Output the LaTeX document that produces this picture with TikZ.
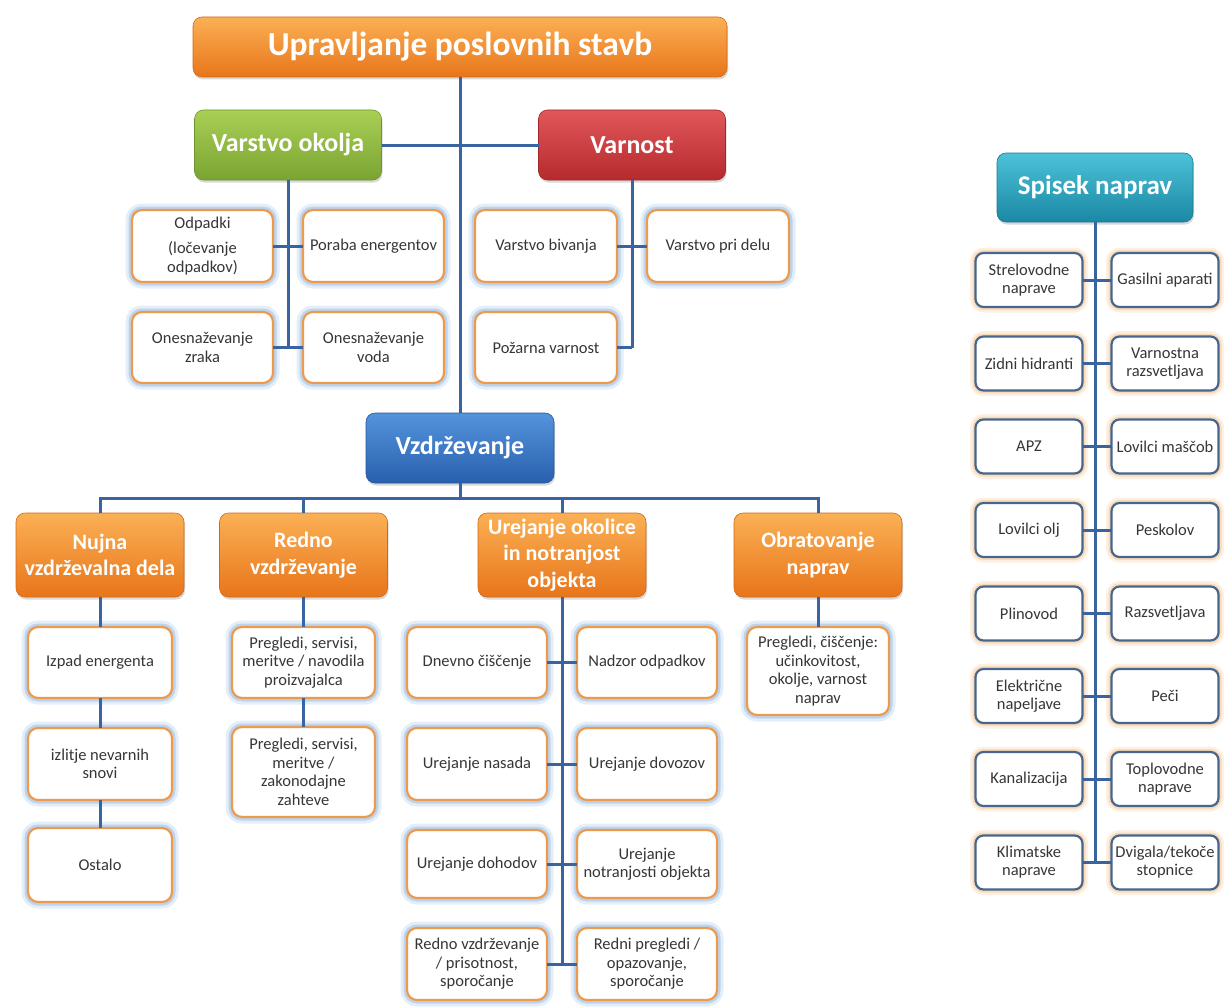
\documentclass[tikz,border=0pt]{standalone}
\usepackage{fontspec}
\setmainfont{Carlito}
\usetikzlibrary{shadows}

\definecolor{linkblue}{HTML}{3A64A0}
\definecolor{leafborder}{HTML}{EE9A4E}
\definecolor{glowin}{HTML}{BCD4EE}
\definecolor{glowout}{HTML}{E4EEF9}
\definecolor{devborder}{HTML}{46668F}
\definecolor{peachin}{HTML}{F8DBB8}
\definecolor{peachout}{HTML}{FDF0E2}
\definecolor{leaftext}{HTML}{363636}
\definecolor{orangetop}{HTML}{FBB055}
\definecolor{orangebot}{HTML}{E8751A}
\definecolor{greentop}{HTML}{A9CF55}
\definecolor{greenbot}{HTML}{7AA432}
\definecolor{redtop}{HTML}{E2585A}
\definecolor{redbot}{HTML}{B52B2D}
\definecolor{bluetop}{HTML}{5494DC}
\definecolor{bluebot}{HTML}{2960AE}
\definecolor{tealtop}{HTML}{4CC2D8}
\definecolor{tealbot}{HTML}{1B88A4}

\tikzset{
  conn/.style={draw=linkblue, line width=3pt},
  hdr/.style={rectangle, rounded corners=9pt, outer sep=0pt, inner sep=2pt,
    text=white, align=center,
    drop shadow={shadow xshift=1pt, shadow yshift=-2.5pt, opacity=.3}},
  orangehdr/.style={hdr, top color=orangetop, bottom color=orangebot, draw=orangebot!90!black, line width=.6pt},
  greenhdr/.style={hdr, top color=greentop, bottom color=greenbot, draw=greenbot!90!black, line width=.6pt},
  redhdr/.style={hdr, top color=redtop, bottom color=redbot, draw=redbot!90!black, line width=.6pt},
  bluehdr/.style={hdr, top color=bluetop, bottom color=bluebot, draw=bluebot!90!black, line width=.6pt},
  tealhdr/.style={hdr, top color=tealtop, bottom color=tealbot, draw=tealbot!90!black, line width=.6pt},
  bigtxt/.style={font=\fontsize{33.5}{40}\selectfont\bfseries},
  midtxt/.style={font=\fontsize{26}{31}\selectfont\bfseries},
  subtxt/.style={font=\fontsize{22}{26.5}\selectfont\bfseries},
  leaf/.style={rectangle, rounded corners=10pt, outer sep=0pt, inner sep=1pt,
    fill=white, draw=leafborder, line width=2.2pt,
    preaction={draw=glowout, line width=13pt},
    preaction={draw=glowin, line width=7pt},
    text=leaftext, align=center, font=\fontsize{16.5}{18.5}\selectfont},
  dev/.style={rectangle, rounded corners=8pt, outer sep=0pt, inner sep=1pt,
    fill=white, draw=devborder, line width=2.2pt,
    preaction={draw=peachout, line width=11pt},
    preaction={draw=peachin, line width=6pt},
    text=leaftext, align=center, font=\fontsize{16.5}{18}\selectfont,
    minimum width=107pt, minimum height=54pt},
}

\begin{document}
\begin{tikzpicture}[x=1pt, y=-1pt]
\useasboundingbox (0,0) rectangle (1230,1006);

% ---------- top level ----------
\node[orangehdr, bigtxt, minimum width=534pt, minimum height=60pt] (title) at (460,47) {Upravljanje poslovnih stavb};

\node[greenhdr, midtxt, minimum width=187pt, minimum height=70pt] (vo) at (288,145) {Varstvo okolja};
\node[redhdr, midtxt, minimum width=187pt, minimum height=70pt] (var) at (632,145) {Varnost};

% environment protection
\node[leaf, minimum width=141pt, minimum height=72pt] (odp) at (202.5,246) {Odpadki\\[7pt](ločevanje\\odpadkov)};
\node[leaf, minimum width=141pt, minimum height=72pt] (pe) at (373.5,246) {Poraba energentov};
\node[leaf, minimum width=141pt, minimum height=71pt] (onz) at (202.5,347.5) {Onesnaževanje\\zraka};
\node[leaf, minimum width=141pt, minimum height=71pt] (onv) at (373.5,347.5) {Onesnaževanje\\voda};

% safety
\node[leaf, minimum width=142pt, minimum height=72pt] (vb) at (546,246) {Varstvo bivanja};
\node[leaf, minimum width=142pt, minimum height=72pt] (vpd) at (718,246) {Varstvo pri delu};
\node[leaf, minimum width=142pt, minimum height=71pt] (pv) at (546,347.5) {Požarna varnost};

% ---------- maintenance ----------
\node[bluehdr, midtxt, minimum width=188pt, minimum height=70pt] (vzd) at (460,448) {Vzdrževanje};
\coordinate (bus) at (460,498);

\node[orangehdr, subtxt, minimum width=168pt, minimum height=84pt] (nuj) at (100,555) {Nujna\\vzdrževalna dela};
\node[orangehdr, subtxt, minimum width=168pt, minimum height=84pt] (red) at (303.5,555) {Redno\\vzdrževanje};
\node[orangehdr, subtxt, minimum width=168pt, minimum height=84pt] (ure) at (562,555) {Urejanje okolice\\in notranjost\\objekta};
\node[orangehdr, subtxt, minimum width=168pt, minimum height=84pt] (obr) at (818,555) {Obratovanje\\naprav};

% emergency works
\node[leaf, minimum width=144pt, minimum height=71pt] (izp) at (100,662.5) {Izpad energenta};
\node[leaf, minimum width=144pt, minimum height=72pt] (izl) at (100,764) {izlitje nevarnih\\snovi};
\node[leaf, minimum width=144pt, minimum height=74pt] (ost) at (100,865) {Ostalo};

% regular maintenance
\node[leaf, minimum width=143pt, minimum height=71pt] (pr1) at (303.5,662.5) {Pregledi, servisi,\\meritve / navodila\\proizvajalca};
\node[leaf, minimum width=143pt, minimum height=90pt] (pr2) at (303.5,772) {Pregledi, servisi,\\meritve /\\zakonodajne\\zahteve};

% surroundings and interior
\node[leaf, minimum width=140pt, minimum height=71pt] (dne) at (477,662.5) {Dnevno čiščenje};
\node[leaf, minimum width=140pt, minimum height=71pt] (nad) at (647,662.5) {Nadzor odpadkov};
\node[leaf, minimum width=140pt, minimum height=72pt] (nas) at (477,764) {Urejanje nasada};
\node[leaf, minimum width=140pt, minimum height=72pt] (dov) at (647,764) {Urejanje dovozov};
\node[leaf, minimum width=140pt, minimum height=68pt] (doh) at (477,864) {Urejanje dohodov};
\node[leaf, minimum width=140pt, minimum height=68pt] (not) at (647,864) {Urejanje\\notranjosti objekta};
\node[leaf, minimum width=140pt, minimum height=72pt] (rvz) at (477,964) {Redno vzdrževanje\\/ prisotnost,\\sporočanje};
\node[leaf, minimum width=140pt, minimum height=72pt] (rpr) at (647,964) {Redni pregledi /\\opazovanje,\\sporočanje};

% operation of devices
\node[leaf, minimum width=142pt, minimum height=88pt] (pci) at (818,671) {Pregledi, čiščenje:\\učinkovitost,\\okolje, varnost\\naprav};

% ---------- list of devices ----------
\node[tealhdr, font=\fontsize{27}{32}\selectfont\bfseries, minimum width=196pt, minimum height=69pt] (sp) at (1095,187.5) {Spisek naprav};

\node[dev] (d1l) at (1029,280) {Strelovodne\\naprave};
\node[dev] (d1r) at (1165,280) {Gasilni aparati};
\node[dev] (d2l) at (1029,363.5) {Zidni hidranti};
\node[dev] (d2r) at (1165,363.5) {Varnostna\\razsvetljava};
\node[dev] (d3l) at (1029,446.5) {APZ};
\node[dev] (d3r) at (1165,446.5) {Lovilci maščob};
\node[dev] (d4l) at (1029,530) {Lovilci olj};
\node[dev] (d4r) at (1165,530) {Peskolov};
\node[dev] (d5l) at (1029,613.5) {Plinovod};
\node[dev] (d5r) at (1165,613.5) {Razsvetljava};
\node[dev] (d6l) at (1029,696) {Električne\\napeljave};
\node[dev] (d6r) at (1165,696) {Peči};
\node[dev] (d7l) at (1029,779) {Kanalizacija};
\node[dev] (d7r) at (1165,779) {Toplovodne\\naprave};
\node[dev] (d8l) at (1029,862.5) {Klimatske\\naprave};
\node[dev] (d8r) at (1165,862.5) {Dvigala/tekoče\\stopnice};

% ---------- connectors ----------
\draw[conn] (title.south) -- (vzd.north);
\draw[conn] (vo.east) -- (var.west);

\draw[conn] (vo.south) -- (vo.south |- onz.east);
\draw[conn] (odp.east) -- (pe.west);
\draw[conn] (onz.east) -- (onv.west);

\draw[conn] (var.south) -- (var.south |- pv.east);
\draw[conn] (vb.east) -- (vpd.west);
\draw[conn] (pv.east) -- (var.south |- pv.east);

\draw[conn] (vzd.south) -- (bus);
\draw[conn] (nuj.north) |- (bus) -| (obr.north);
\draw[conn] (red.north) -- (red.north |- bus);
\draw[conn] (ure.north) -- (ure.north |- bus);

\draw[conn] (nuj.south) -- (izp.north);
\draw[conn] (izp.south) -- (izl.north);
\draw[conn] (izl.south) -- (ost.north);

\draw[conn] (red.south) -- (pr1.north);
\draw[conn] (pr1.south) -- (pr2.north);

\draw[conn] (ure.south) -- (ure.south |- rvz.east);
\draw[conn] (dne.east) -- (nad.west);
\draw[conn] (nas.east) -- (dov.west);
\draw[conn] (doh.east) -- (not.west);
\draw[conn] (rvz.east) -- (rpr.west);

\draw[conn] (obr.south) -- (pci.north);

\draw[conn] (sp.south) -- (sp.south |- d8l.east);
\foreach \r in {1,...,8} {
  \draw[conn] (d\r l.east) -- (d\r r.west);
}
\end{tikzpicture}
\end{document}
